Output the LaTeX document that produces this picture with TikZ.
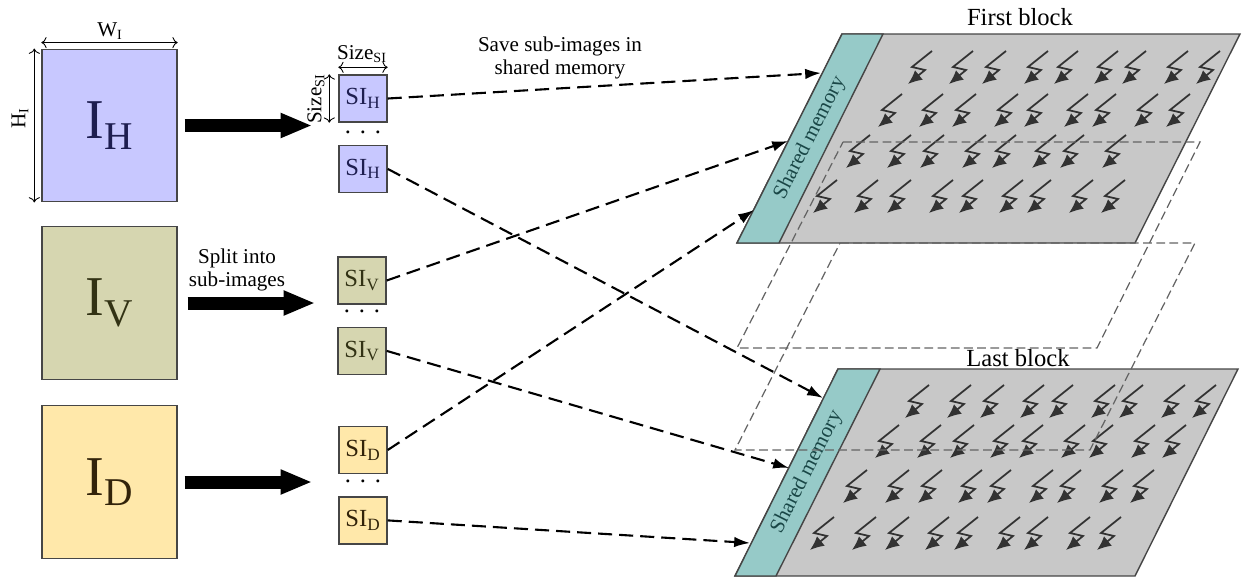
\documentclass[tikz,border=0pt]{standalone}
\usepackage{fontspec}
\setmainfont{Liberation Serif}
\usetikzlibrary{arrows.meta}
\usetikzlibrary{positioning}

\definecolor{hfill}{RGB}{200,200,255}
\definecolor{vfill}{RGB}{214,214,176}
\definecolor{dfill}{RGB}{255,232,170}
\definecolor{htext}{RGB}{30,30,80}
\definecolor{vtext}{RGB}{50,50,20}
\definecolor{dtext}{RGB}{50,35,10}
\definecolor{memfill}{RGB}{150,202,200}
\definecolor{memtext}{RGB}{25,70,70}
\definecolor{blockfill}{RGB}{200,200,200}
\definecolor{linegray}{RGB}{70,70,70}
\definecolor{ghostgray}{RGB}{100,100,100}
\definecolor{boltgray}{RGB}{50,50,50}

\tikzset{
    img/.style={draw=linegray, line width=0.8pt, minimum width=2.7cm, minimum height=3.05cm, inner sep=0pt, font=\fontsize{32}{34}\selectfont},
    sub/.style={draw=linegray, line width=0.8pt, minimum width=0.96cm, minimum height=0.94cm, inner sep=0pt, font=\fontsize{14}{16}\selectfont},
    dots/.style={inner sep=0pt, font=\fontsize{14}{16}\selectfont},
    dimline/.style={{To[length=3pt]}-{To[length=3pt]}, line width=0.5pt},
    dimtxt/.style={inner sep=1pt, font=\fontsize{12}{13}\selectfont},
    note/.style={align=center, font=\fontsize{12}{13}\selectfont},
    blocktxt/.style={font=\fontsize{14}{16}\selectfont},
    bigarrow/.style={line width=7.4pt, -{Triangle[length=18pt,width=13pt]}},
    conn/.style={line width=1.2pt, dash pattern=on 8pt off 4pt, -{Latex[length=9pt,width=6pt]}},
    ghost/.style={draw=ghostgray, line width=0.7pt, dash pattern=on 5pt off 2.5pt},
    block/.style={draw=linegray, line width=0.8pt, fill=blockfill},
    mem/.style={draw=linegray, line width=0.8pt, fill=memfill},
    memtxt/.style={rotate=63, text=memtext, font=\fontsize{12}{14}\selectfont},
    boltline/.style={draw=boltgray, line width=1pt, -{Latex[length=8pt,width=7pt]}},
    bolt/.pic={\draw[boltline] (24,-33) -- (4,-17) -- (17,-14) -- (0,0);}
}

\begin{document}
\begin{tikzpicture}[x=0.02cm, y=-0.02cm, node distance=4.4mm]
    \useasboundingbox (0,0) rectangle (1242,579);

    % input images
    \node [img, fill=hfill, text=htext] (IH) at (109.5,125.5) {I\textsubscript{H}};
    \node [img, fill=vfill, text=vtext] (IV) at (109.5,303) {I\textsubscript{V}};
    \node [img, fill=dfill, text=dtext] (ID) at (109.5,482) {I\textsubscript{D}};

    \draw [dimline] ([yshift=0.12cm]IH.north west) -- ([yshift=0.12cm]IH.north east);
    \node [dimtxt] (wtxt) at (110,31) {W\textsubscript{I}};
    \draw [dimline] ([xshift=-0.14cm]IH.north west) -- ([xshift=-0.14cm]IH.south west);
    \node [dimtxt, rotate=90] (htxt) at (20,118) {H\textsubscript{I}};

    % sub-images
    \node [sub, fill=hfill, text=htext] (SIH1) at (363,98.5) {SI\textsubscript{H}};
    \node [sub, fill=hfill, text=htext] (SIH2) [below=of SIH1] {SI\textsubscript{H}};
    \node [sub, fill=vfill, text=vtext] (SIV1) at (362,280.5) {SI\textsubscript{V}};
    \node [sub, fill=vfill, text=vtext] (SIV2) [below=of SIV1] {SI\textsubscript{V}};
    \node [sub, fill=dfill, text=dtext] (SID1) at (363,450) {SI\textsubscript{D}};
    \node [sub, fill=dfill, text=dtext] (SID2) [below=of SID1] {SI\textsubscript{D}};

    \node [dots] (dotsH) [below=1.6mm of SIH1] {.\hspace{5pt}.\hspace{5pt}.};
    \node [dots] (dotsV) [below=0.9mm of SIV1] {.\hspace{5pt}.\hspace{5pt}.};
    \node [dots] (dotsD) [below=1.1mm of SID1] {.\hspace{5pt}.\hspace{5pt}.};

    \draw [dimline] ([yshift=0.14cm]SIH1.north west) -- ([yshift=0.14cm]SIH1.north east);
    \node [dimtxt] (sizetop) at (362,54) {Size\textsubscript{SI}};
    \draw [dimline] ([xshift=-0.18cm]SIH1.north west) -- ([xshift=-0.18cm]SIH1.south west);
    \node [dimtxt, rotate=90] (sizeleft) at (316,99) {Size\textsubscript{SI}};

    % splitting
    \draw [bigarrow] ([xshift=0.14cm]IH.east) -- ([xshift=-0.52cm]IH.east -| SIH1.west);
    \draw [bigarrow] ([xshift=0.2cm]IV.east) -- ([xshift=-0.44cm]IV.east -| SIV1.west);
    \draw [bigarrow] ([xshift=0.14cm]ID.east) -- ([xshift=-0.52cm]ID.east -| SID1.west);
    \node [note] (splittxt) at (237,270) {Split into\\sub-images};
    \node [note] (savetxt) at (560,58) {Save sub-images in\\shared memory};

    % first block
    \draw [block] (842,34) -- (1240,34) -- (1135,243) -- (737,243) -- cycle;
    \draw [mem] (842,34) -- (883,34) -- (779,243) -- (737,243) -- cycle;
    \node [memtxt] (mem1) at (810,138) {Shared memory};
    \node [blocktxt] (firsttxt) at (1020,17) {First block};
    \foreach \x/\y in {908/84, 878/127, 813/213}
        \foreach \dx in {0,41,74,116,146,186,214,256,288}
            \pic at (\x+\dx,\y) {bolt};
    \foreach \dx in {0,41,74,116,146,186,214,256}
        \pic at (846+\dx,168) {bolt};
    \draw [ghost] (843,142) -- (1200,142) -- (1097,348) -- (737,348) -- cycle;

    % last block
    \draw [block] (838,369) -- (1238,369) -- (1135,576) -- (735,576) -- cycle;
    \draw [mem] (838,369) -- (880,369) -- (776,576) -- (735,576) -- cycle;
    \node [memtxt] (mem2) at (807,472) {Shared memory};
    \node [blocktxt] (lasttxt) at (1018,358) {Last block};
    \foreach \x/\y in {905/418, 875/458, 843/503, 810/550}
        \foreach \dx in {0,42,75,115,144,186,214,256,287}
            \pic at (\x+\dx,\y) {bolt};
    \draw [ghost] (840,243) -- (1195,243) -- (1090,450) -- (735,450) -- cycle;

    % saving sub-images
    \coordinate (fb1) at (821,73);
    \coordinate (fb2) at (788,141);
    \coordinate (fb3) at (754,210);
    \coordinate (lb1) at (823,398);
    \coordinate (lb2) at (789,468);
    \coordinate (lb3) at (750,543);
    \path [conn]
        (SIH1.east) edge (fb1)
        (SIH2.east) edge (lb1)
        (SIV1.east) edge (fb2)
        (SIV2.east) edge (lb2)
        (SID1.east) edge (fb3)
        (SID2.east) edge (lb3);
\end{tikzpicture}
\end{document}
